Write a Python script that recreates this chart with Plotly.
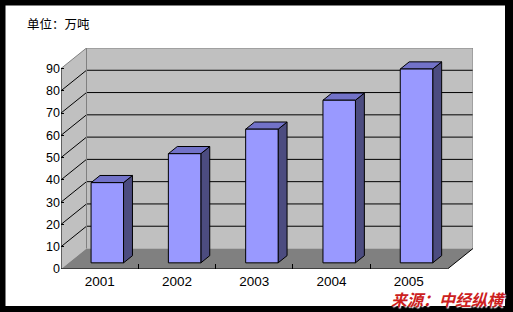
import plotly.graph_objects as go

# ---------------- data ----------------
categories = ["2001", "2002", "2003", "2004", "2005"]
values = [36, 49, 60, 73, 87]
y_ticks = [0, 10, 20, 30, 40, 50, 60, 70, 80, 90]
unit_label = "单位：万吨"
source_label = "来源：中经纵横"

# ---------------- geometry / style ----------------
W, H = 513, 312
ML, MR, MT, MB = 61, 40, 48, 43
PW, PH = W - ML - MR, H - MT - MB
YMAX = 90
DX, DY = 0.33, 9.2          # depth of the 3D box in axis units
F0, BDEP, HW = 0.30, 0.35, 0.21   # bar front depth fraction, bar depth fraction, half width
n = len(categories)

FRONT, TOP, SIDE = "#9999FF", "#7272C8", "#4C4C80"
WALL, FLOOR, EDGE = "#C0C0C0", "#808080", "#808080"

def px2paper_x(p):
    return (p - ML) / PW

def px2paper_y(p):
    return (H - MB - p) / PH

fig = go.Figure()

def poly(xs, ys, fill, line="rgba(0,0,0,0)", lw=0):
    fig.add_trace(go.Scatter(x=xs, y=ys, mode="lines", fill="toself", fillcolor=fill,
                             line=dict(color=line, width=lw), hoverinfo="skip", showlegend=False))

def seg(xs, ys, color, lw=1):
    fig.add_trace(go.Scatter(x=xs, y=ys, mode="lines", line=dict(color=color, width=lw),
                             hoverinfo="skip", showlegend=False))

# back wall
poly([DX, n + DX, n + DX, DX, DX], [DY, DY, YMAX + DY, YMAX + DY, DY], WALL)
# left wall
poly([0, DX, DX, 0, 0], [0, DY, YMAX + DY, YMAX, 0], WALL)
# floor
poly([0, n, n + DX, DX, 0], [0, 0, DY, DY, 0], FLOOR)

# gridlines
gx, gy = [], []
for v in y_ticks[1:-1]:
    gx += [0, DX, n + DX, None]
    gy += [v, v + DY, v + DY, None]
seg(gx, gy, "black", 1)

# wall edges (gray)
seg([0, DX, n + DX, n + DX], [YMAX, YMAX + DY, YMAX + DY, DY], EDGE, 1)
seg([DX, DX], [DY, YMAX + DY], EDGE, 1)

# floor edges & front axis (black)
seg([0, 0, n, n + DX], [YMAX, 0, 0, DY], "black", 1)

# bars
bdx, bdy = BDEP * DX, BDEP * DY
ox, oy = F0 * DX, F0 * DY
fx, fy, tx, ty, sx, sy = [], [], [], [], [], []
for i, v in enumerate(values):
    c = i + 0.5 + ox
    l, r = c - HW, c + HW
    b, t = oy, v + oy
    fx += [l, r, r, l, l, None]
    fy += [b, b, t, t, b, None]
    tx += [l, r, r + bdx, l + bdx, l, None]
    ty += [t, t, t + bdy, t + bdy, t, None]
    sx += [r, r + bdx, r + bdx, r, r, None]
    sy += [b, b + bdy, t + bdy, t, b, None]
poly(sx, sy, SIDE, "black", 1)
poly(tx, ty, TOP, "black", 1)
poly(fx, fy, FRONT, "black", 1)

fig.update_layout(
    width=W, height=H,
    margin=dict(l=ML, r=MR, t=MT, b=MB, pad=0),
    paper_bgcolor="black",
    plot_bgcolor="rgba(0,0,0,0)",
    showlegend=False,
    xaxis=dict(range=[0, n + DX], showgrid=False, zeroline=False, showline=False,
               tickvals=[i + 0.5 for i in range(n)], ticktext=categories, ticks="",
               ticklabelstandoff=2,
               tickfont=dict(family="Liberation Sans, Arial", size=13.5, color="black"),
               minor=dict(tickvals=list(range(1, n)), ticks="inside", ticklen=5,
                          tickcolor="black", tickwidth=1, showgrid=False),
               fixedrange=True),
    yaxis=dict(range=[0, YMAX + DY], showgrid=False, zeroline=False, showline=False,
               tickvals=y_ticks, ticktext=[str(v) for v in y_ticks],
               ticks="inside", ticklen=3, tickcolor="black",
               tickfont=dict(family="Liberation Sans, Arial", size=12.5, color="black"),
               fixedrange=True),
    shapes=[dict(type="rect", xref="paper", yref="paper", layer="below",
                 x0=px2paper_x(5.5), x1=px2paper_x(505), y0=px2paper_y(306), y1=px2paper_y(5.5),
                 fillcolor="white", line=dict(width=0))],
    annotations=[
        dict(text=unit_label, xref="paper", yref="paper", x=px2paper_x(25), y=px2paper_y(24),
             xanchor="left", yanchor="middle", showarrow=False,
             font=dict(family="Noto Sans CJK SC", size=12.5, color="black")),
        dict(text=source_label, xref="paper", yref="paper", x=px2paper_x(507), y=px2paper_y(298.5),
             xanchor="right", yanchor="middle", showarrow=False, borderpad=0,
             font=dict(family="Noto Sans CJK SC", size=16, color="#CC2020",
                       weight="bold", style="italic", shadow="1px 1px 1px #FFFFFF")),
    ],
)

fig.write_html("out.html")
